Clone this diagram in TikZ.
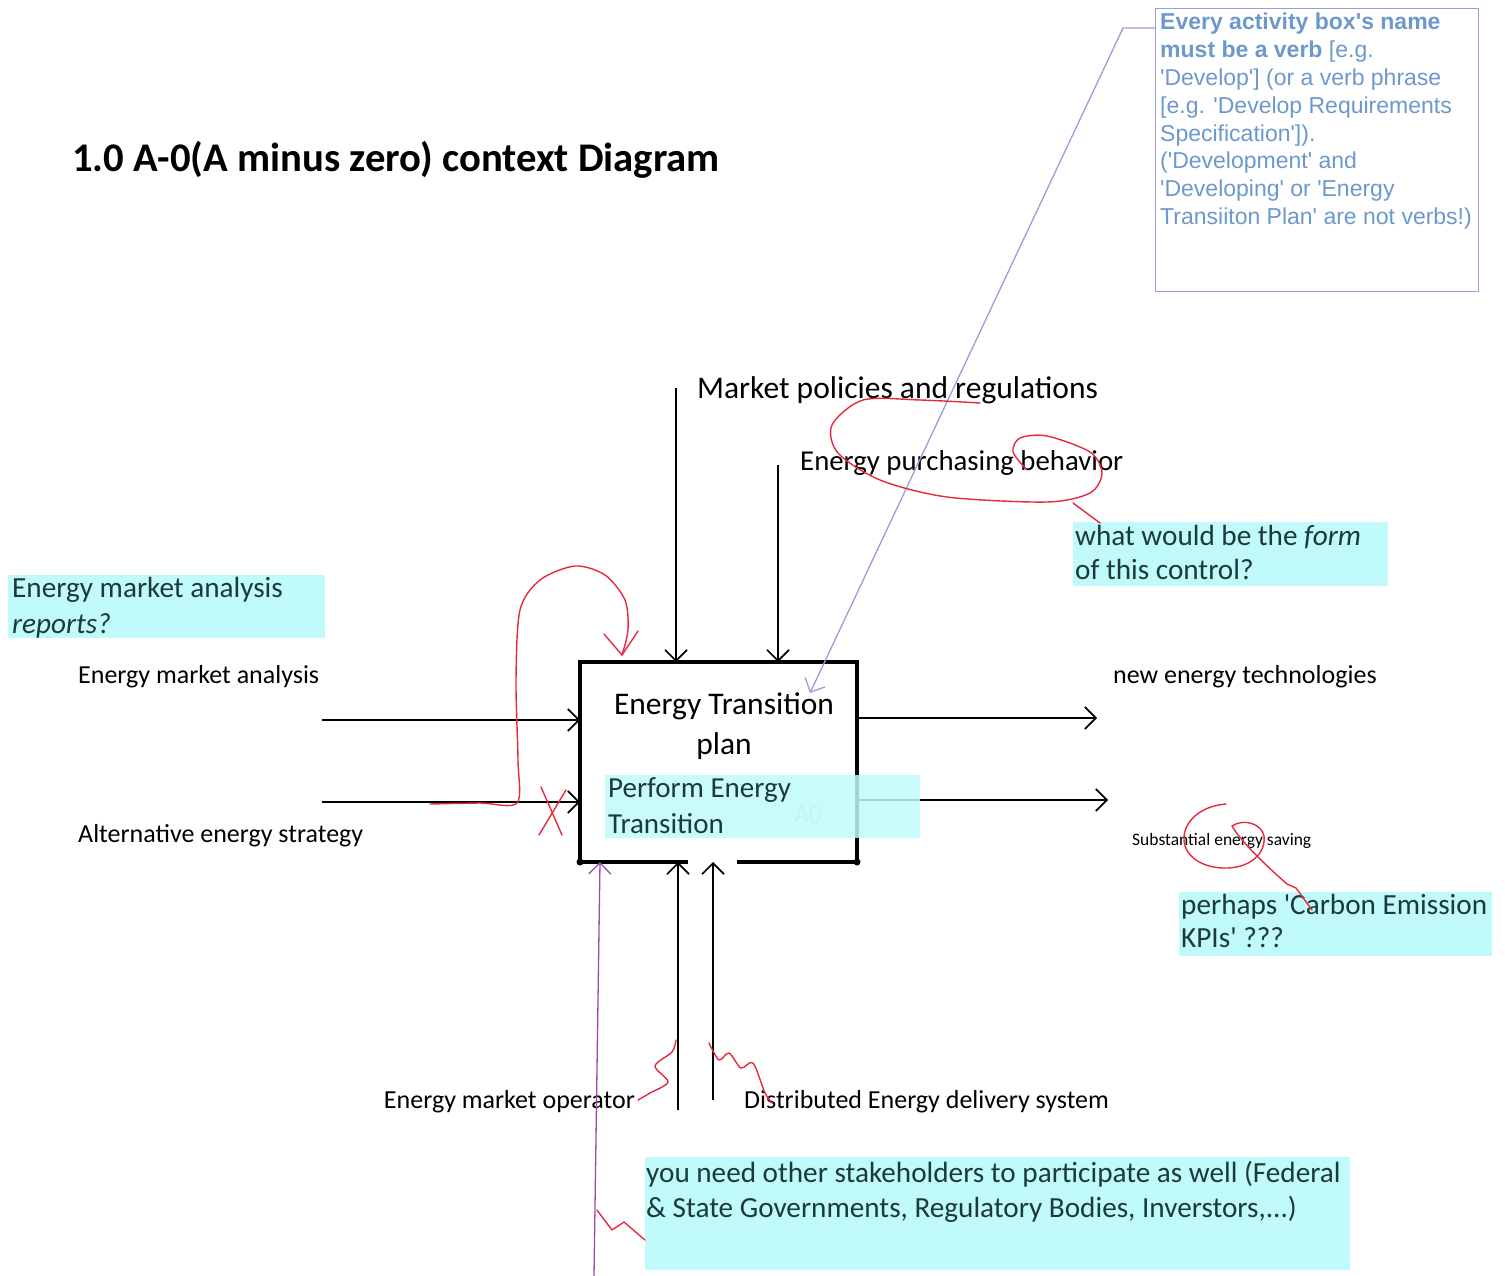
\documentclass[tikz,border=0pt]{standalone}
\usepackage{fontspec}
\setmainfont{Carlito}
\newfontfamily\arialfont{Liberation Sans}
\usepackage{xcolor}
\usetikzlibrary{arrows.meta}
\definecolor{notecyan}{HTML}{C0FAFA}
\definecolor{notetext}{HTML}{1C3A3A}
\definecolor{remarkblue}{HTML}{6C98CC}
\definecolor{remarkframe}{HTML}{9C9CD8}
\definecolor{penred}{HTML}{E62A3E}
\definecolor{penviolet}{HTML}{A048B0}
\newcommand{\fs}[1]{\fontsize{#1}{1.2\dimexpr #1pt\relax}\selectfont}
\newcommand{\q}{\textquotesingle}

\begin{document}
\begin{tikzpicture}[x=1pt,y=-1pt,
  >={Straight Barb[length=11pt,width=22pt]},
  flow/.style={->,line width=1.7pt},
  lab/.style={anchor=base west,inner sep=0pt,font=\fs{26}},
  notelab/.style={anchor=base west,inner sep=0pt,text=notetext,font=\fs{29.2}},
  notebg/.style={fill=notecyan},
  pen/.style={penred,line width=1.4pt,line join=round,line cap=round}]
\useasboundingbox (0,0) rectangle (1505,1276);

% title
\node[anchor=base west,inner sep=0pt,font=\fs{40.7}\bfseries] (title) at (72,172) {1.0 A-0(A minus zero) context Diagram};

% remark box top right
\node[draw=remarkframe,line width=1.2pt,anchor=north west,minimum width=323pt,minimum height=283pt,inner sep=0pt] (R) at (1155,8) {};
\node[anchor=north west,inner sep=0pt,text=remarkblue,align=left,
  font=\arialfont\fontsize{23}{27.8}\selectfont] (Rtxt) at (1160,13)
  {\textbf{Every activity box's name}\\
   \textbf{must be a verb} {[}e.g.\\
   'Develop'] (or a verb phrase\\
   {[}e.g. 'Develop Requirements\\
   Specification']).\\
   ('Development' and\\
   'Developing' or 'Energy\\
   Transiiton Plan' are not verbs!)};

% the activity box
\coordinate (TL) at (580,662);
\coordinate (TR) at (857,662);
\coordinate (BL) at (580,862);
\coordinate (BR) at (857,862);
\draw[line width=4pt] (688,862) -- (BL) -- (TL) -- (TR) -- (BR) -- (737,862);
\foreach \c in {BL,BR} \fill (\c) circle (3.5pt);
\node[font=\fs{31.5},inner sep=0pt,anchor=base] (A) at (724,714) {Energy Transition};
\node[font=\fs{31.5},inner sep=0pt,anchor=base] (Ap) at (724,754) {plan};
\node[font=\fs{25},inner sep=0pt,anchor=base,text=black!18] (Anum) at (808,822) {A0};

% controls
\coordinate (C1) at (676,388);
\coordinate (C2) at (778,465);
\draw[flow] (C1) -- (C1 |- TL);
\draw[flow] (C2) -- (C2 |- TL);
\node[lab,font=\fs{31.5}] (c1) at (697,398) {Market policies and regulations};
\node[lab,font=\fs{28.8}] (c2) at (800,470) {Energy purchasing behavior};

% inputs
\coordinate (I1) at (322,720);
\coordinate (I2) at (322,802);
\draw[flow] (I1) -- (I1 -| TL);
\draw[flow] (I2) -- (I2 -| TL);
\node[lab] (i1) at (78,683) {Energy market analysis};
\node[lab] (i2) at (78,842) {Alternative energy strategy};

% outputs
\coordinate (O1) at (1097,718);
\coordinate (O2) at (1108,800);
\draw[flow] (O1 -| TR) -- (O1);
\draw[flow] (O2 -| TR) -- (O2);
\node[lab] (o1) at (1113,683) {new energy technologies};
\node[lab,font=\fs{17.5}] (o2) at (1132,845) {Substantial energy saving};

% mechanisms
\coordinate (M1) at (678,1110);
\coordinate (M2) at (713,1100);
\draw[flow] (M1) -- (M1 |- BL);
\draw[flow] (M2) -- (M2 |- BL);
\node[lab,anchor=base east] (m1) at (635,1108) {Energy market operator};
\node[lab] (m2) at (744,1108) {Distributed Energy delivery system};

% cyan notes
\fill[notebg,opacity=0.85] (605,775) rectangle (920,838);
\node[notelab,font=\fs{29}] (P1) at (608,797) {Perform Energy};
\node[notelab,font=\fs{29}] (P2) at (608,833) {Transition};

\fill[notebg] (8,575) rectangle (325,638);
\node[notelab] (n1) at (12,597) {Energy market analysis};
\node[notelab] (n1b) at (12,633) {\itshape reports?};

\fill[notebg] (1073,522) rectangle (1388,586);
\node[notelab] (n2) at (1075,545) {what would be the \textit{form}};
\node[notelab] (n2b) at (1075,579) {of this control?};

\fill[notebg] (1179,892) rectangle (1492,956);
\node[notelab] (n3) at (1181,914) {perhaps \q Carbon Emission};
\node[notelab] (n3b) at (1181,947) {KPIs\q\ ???};

\fill[notebg] (645,1157) rectangle (1350,1270);
\node[notelab] (n4) at (646,1182) {you need other stakeholders to participate as well (Federal};
\node[notelab] (n4b) at (646,1217) {\& State Governments, Regulatory Bodies, Inverstors,...)};

% pointer from the remark
\coordinate (Rp) at (1123,28);
\coordinate (Rt) at (810,693);
\draw[remarkframe,line width=1.3pt,->] (R.north west |- Rp) -- (Rp) -- (Rt);

% stakeholder arrow
\coordinate (S0) at (594,1276);
\coordinate (S1) at (600,862);
\draw[penviolet,line width=1.3pt,->] (S0) -- (S1);

% red pen marks
\draw[pen] plot[smooth] coordinates {(430,804) (480,803) (517,803) (518,760) (516,680) (520,610) (540,580) (575,566) (605,575) (625,600) (628,630) (622,655)};
\draw[pen] (604,634) -- (622,655) -- (638,631);
\draw[pen] (541,787) -- (562,835);
\draw[pen] (566,790) -- (539,835);
\draw[pen] plot[smooth] coordinates {(980,403) (920,400) (863,400) (832,425) (838,453) (880,480) (947,497) (1047,502) (1090,493) (1102,473) (1090,452) (1047,436) (1020,438) (1013,452) (1027,470)};
\draw[pen] (1073,503) -- (1100,523);
\draw[pen] (1226,804) .. controls (1200,806) and (1183,822) .. (1184,840)
  .. controls (1185,858) and (1205,869) .. (1228,868)
  .. controls (1252,867) and (1266,852) .. (1264,836)
  .. controls (1262,824) and (1244,818) .. (1232,826)
  .. controls (1240,840) and (1262,862) .. (1287,884) -- (1296,888) -- (1312,910);
\draw[pen] plot[smooth] coordinates {(638,1100) (650,1093) (668,1082) (655,1066) (672,1052) (676,1040)};
\draw[pen] plot[smooth] coordinates {(709,1043) (719,1060) (729,1053) (741,1068) (753,1063) (765,1093) (772,1103)};
\draw[pen] plot coordinates {(597,1210) (612,1230) (624,1222) (645,1240)};
\end{tikzpicture}
\end{document}
